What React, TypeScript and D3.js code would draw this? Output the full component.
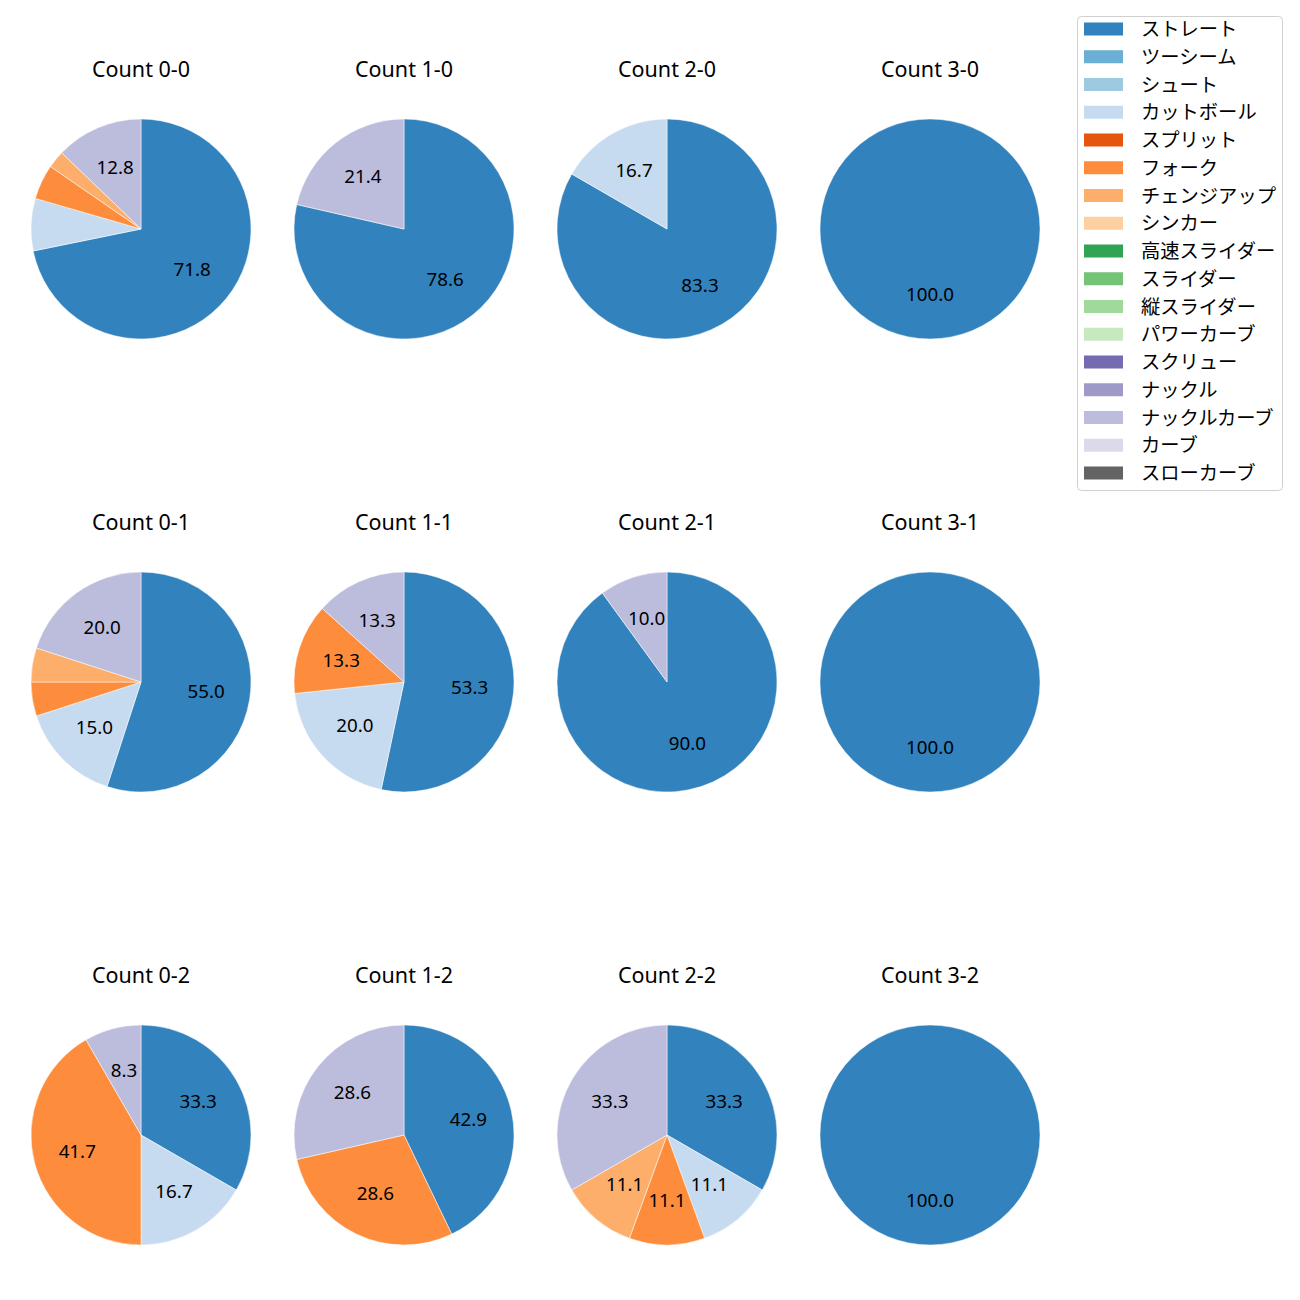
import React from "react";
import * as d3 from "d3";

const pitchTypes = ["ストレート","ツーシーム","シュート","カットボール","スプリット","フォーク","チェンジアップ","シンカー","高速スライダー","スライダー","縦スライダー","パワーカーブ","スクリュー","ナックル","ナックルカーブ","カーブ","スローカーブ"];
const colors = ["#3182bd","#6baed6","#9ecae1","#c6dbef","#e6550d","#fd8d3c","#fdae6b","#fdd0a2","#31a354","#74c476","#a1d99b","#c7e9c0","#756bb1","#9e9ac8","#bcbddc","#dadaeb","#636363"];

const counts = ["0-0","1-0","2-0","3-0","0-1","1-1","2-1","3-1","0-2","1-2","2-2","3-2"];
// pitch counts per type (order of pitchTypes)
const c00 = [28,0,0,3,0,2,1,0,0,0,0,0,0,0,5,0,0];
const c10 = [11,0,0,0,0,0,0,0,0,0,0,0,0,0,3,0,0];
const c20 = [5,0,0,1,0,0,0,0,0,0,0,0,0,0,0,0,0];
const c30 = [3,0,0,0,0,0,0,0,0,0,0,0,0,0,0,0,0];
const c01 = [11,0,0,3,0,1,1,0,0,0,0,0,0,0,4,0,0];
const c11 = [8,0,0,3,0,2,0,0,0,0,0,0,0,0,2,0,0];
const c21 = [9,0,0,0,0,0,0,0,0,0,0,0,0,0,1,0,0];
const c31 = [2,0,0,0,0,0,0,0,0,0,0,0,0,0,0,0,0];
const c02 = [4,0,0,2,0,5,0,0,0,0,0,0,0,0,1,0,0];
const c12 = [3,0,0,0,0,2,0,0,0,0,0,0,0,0,2,0,0];
const c22 = [3,0,0,1,0,1,1,0,0,0,0,0,0,0,3,0,0];
const c32 = [2,0,0,0,0,0,0,0,0,0,0,0,0,0,0,0,0];
const allCounts = [c00,c10,c20,c30,c01,c11,c21,c31,c02,c12,c22,c32];

const FONT = "'Noto Sans', 'Noto Sans CJK JP', sans-serif";

export default function App() {
  const r = 110;
  const cx0 = 141, dx = 263;
  const cy0 = 229, dy = 453;
  const pie = d3.pie<number>().sort(null).value((d) => d).startAngle(0).endAngle(2 * Math.PI);
  const arc = d3.arc<d3.PieArcDatum<number>>().innerRadius(0).outerRadius(r);
  return (
    <svg width={1300} height={1300} style={{ display: "block", position: "absolute", left: 0, top: 0 }} fontFamily={FONT}>
      <rect width={1300} height={1300} fill="#fff" />
      {allCounts.map((vals, i) => {
        const col = i % 4, row = Math.floor(i / 4);
        const cx = cx0 + col * dx, cy = cy0 + row * dy;
        const total = d3.sum(vals);
        const arcs = pie(vals);
        return (
          <g key={i}>
            <text x={cx} y={cy - 161} textAnchor="middle" dominantBaseline="central" fontSize={21.5} fill="#000">{`Count ${counts[i]}`}</text>
            <g transform={`translate(${cx},${cy})`}>
              {arcs.map((a, j) => a.value > 0 ? (
                <path key={j} d={arc(a) || ""} fill={colors[j]} stroke="#fff" strokeWidth={0.5} />
              ) : null)}
              {arcs.map((a, j) => {
                const pct = (a.value / total) * 100;
                if (a.value <= 0 || pct < 8) return null;
                const mid = (a.startAngle + a.endAngle) / 2;
                const x = 0.6 * r * Math.sin(mid);
                const y = -0.6 * r * Math.cos(mid);
                return (
                  <text key={"t" + j} x={x} y={y - 1.5} textAnchor="middle" dominantBaseline="central" fontSize={18.8} fill="#000">{pct.toFixed(1)}</text>
                );
              })}
            </g>
          </g>
        );
      })}
      <g>
        <rect x={1077.5} y={16.5} width={205} height={474} rx={4} fill="#fff" stroke="#d0d0d0" strokeWidth={1} />
        {pitchTypes.map((p, k) => (
          <g key={k} transform={`translate(0, ${29 + k * 27.75})`}>
            <rect x={1084} y={-6.5} width={39} height={13} fill={colors[k]} />
            <text x={1141} y={-0.5} dominantBaseline="central" fontSize={19.3} fill="#000">{p}</text>
          </g>
        ))}
      </g>
    </svg>
  );
}
